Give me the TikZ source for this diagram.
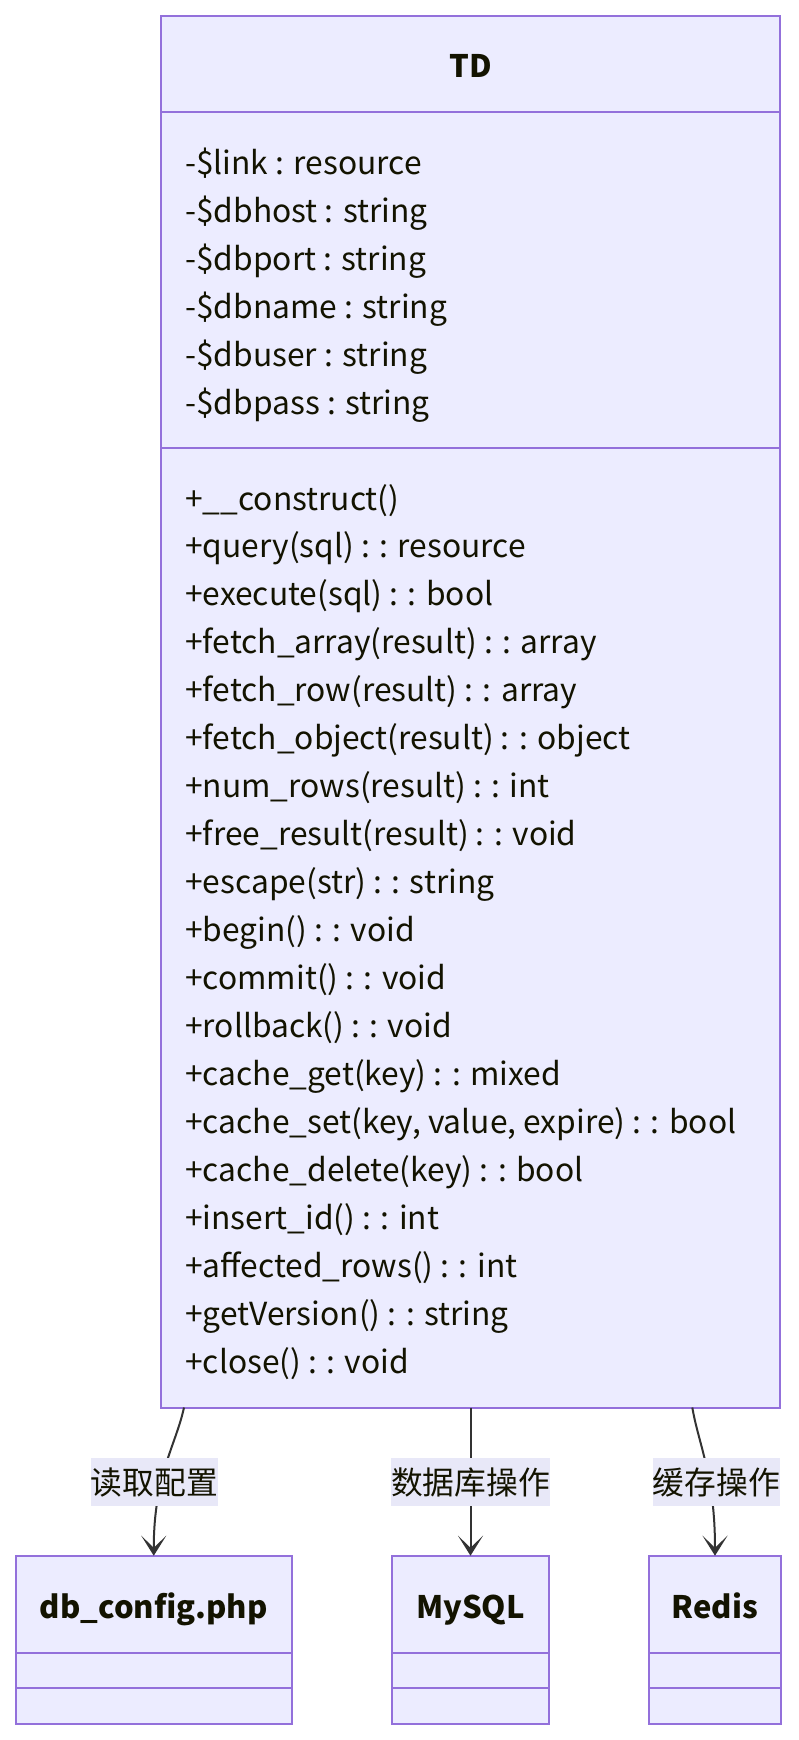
\documentclass[tikz,border=0pt]{standalone}
\usepackage{fontspec}
\setmainfont{Noto Sans CJK SC}
\usetikzlibrary{arrows.meta}
\definecolor{boxfill}{HTML}{ECECFF}
\definecolor{boxline}{HTML}{9370DB}
\definecolor{txt}{HTML}{131300}
\definecolor{edgecol}{HTML}{333333}
\definecolor{lblbg}{HTML}{E8E8F8}
\begin{document}
\begin{tikzpicture}[x=1pt,y=-1pt,
  box/.style={draw=boxline, fill=boxfill, line width=2pt, inner sep=0pt, outer sep=0pt, anchor=north west},
  divider/.style={draw=boxline, line width=2pt},
  member/.style={anchor=base west, inner sep=0pt, text=txt, font=\fontsize{31.75}{48}\selectfont},
  classtitle/.style={anchor=base, inner sep=0pt, text=txt, font=\fontsize{31}{48}\selectfont\bfseries},
  lbl/.style={fill=lblbg, text=txt, inner xsep=0pt, inner ysep=0pt, minimum height=47.4pt, font=\fontsize{31.75}{48}\selectfont},
  conn/.style={draw=edgecol, line width=2pt, -{Stealth[length=20pt,width=25pt,inset=12pt]}}
]
\useasboundingbox (0,0) rectangle (799,1740);
% main class box
\node[box, minimum width=619pt, minimum height=1392pt] (TD) at (161,15.5) {};
\draw[divider] (161,111.5) -- (780,111.5);
\draw[divider] (161,447.5) -- (780,447.5);
\node[classtitle] (TDt) at (470.5,77.5) {TD};
\foreach \t [count=\i from 0] in {-\$link : resource,-\$dbhost : string,-\$dbport : string,-\$dbname : string,-\$dbuser : string,-\$dbpass : string}
  \node[member] (a\i) at (185,{174+48*\i}) {\t};
\foreach \t [count=\i from 0] in {+\_\_construct(),+query(sql) : : resource,+execute(sql) : : bool,+fetch\_array(result) : : array,+fetch\_row(result) : : array,+fetch\_object(result) : : object,+num\_rows(result) : : int,+free\_result(result) : : void,+escape(str) : : string,+begin() : : void,+commit() : : void,+rollback() : : void,+cache\_get(key) : : mixed,{+cache\_set(key, value, expire) : : bool},+cache\_delete(key) : : bool,+insert\_id() : : int,+affected\_rows() : : int,+getVersion() : : string,+close() : : void}
  \node[member] (m\i) at (185,{510+47.96*\i}) {\t};
% lower boxes
\node[box, minimum width=276.5pt, minimum height=168pt] (cfg) at (15.5,1555.7) {};
\node[box, minimum width=157pt, minimum height=168pt] (mysql) at (392,1555.7) {};
\node[box, minimum width=132pt, minimum height=168pt] (redis) at (649,1555.7) {};
\draw[divider] (15.5,1652.5) -- (292,1652.5);
\draw[divider] (15.5,1688) -- (292,1688);
\draw[divider] (392,1652.5) -- (549,1652.5);
\draw[divider] (392,1688) -- (549,1688);
\draw[divider] (649,1652.5) -- (781,1652.5);
\draw[divider] (649,1688) -- (781,1688);
\node[classtitle] (cfgt) at (153.75,1618) {db\_config.php};
\node[classtitle] (mysqlt) at (470.5,1618) {MySQL};
\node[classtitle] (redist) at (715,1618) {Redis};
% connectors
\draw[conn] ([xshift=-286.5pt]TD.south) .. controls (176,1445) and (153.75,1475) .. (cfg.north);
\draw[conn] (TD.south) -- (mysql.north);
\draw[conn] ([xshift=221.8pt]TD.south) .. controls (698.7,1445) and (715,1475) .. (redis.north);
% labels
\node[lbl] (l1) at (154.3,1482) {读取配置};
\node[lbl] (l2) at (470.5,1482) {数据库操作};
\node[lbl] (l3) at (716.3,1482) {缓存操作};
\end{tikzpicture}
\end{document}
